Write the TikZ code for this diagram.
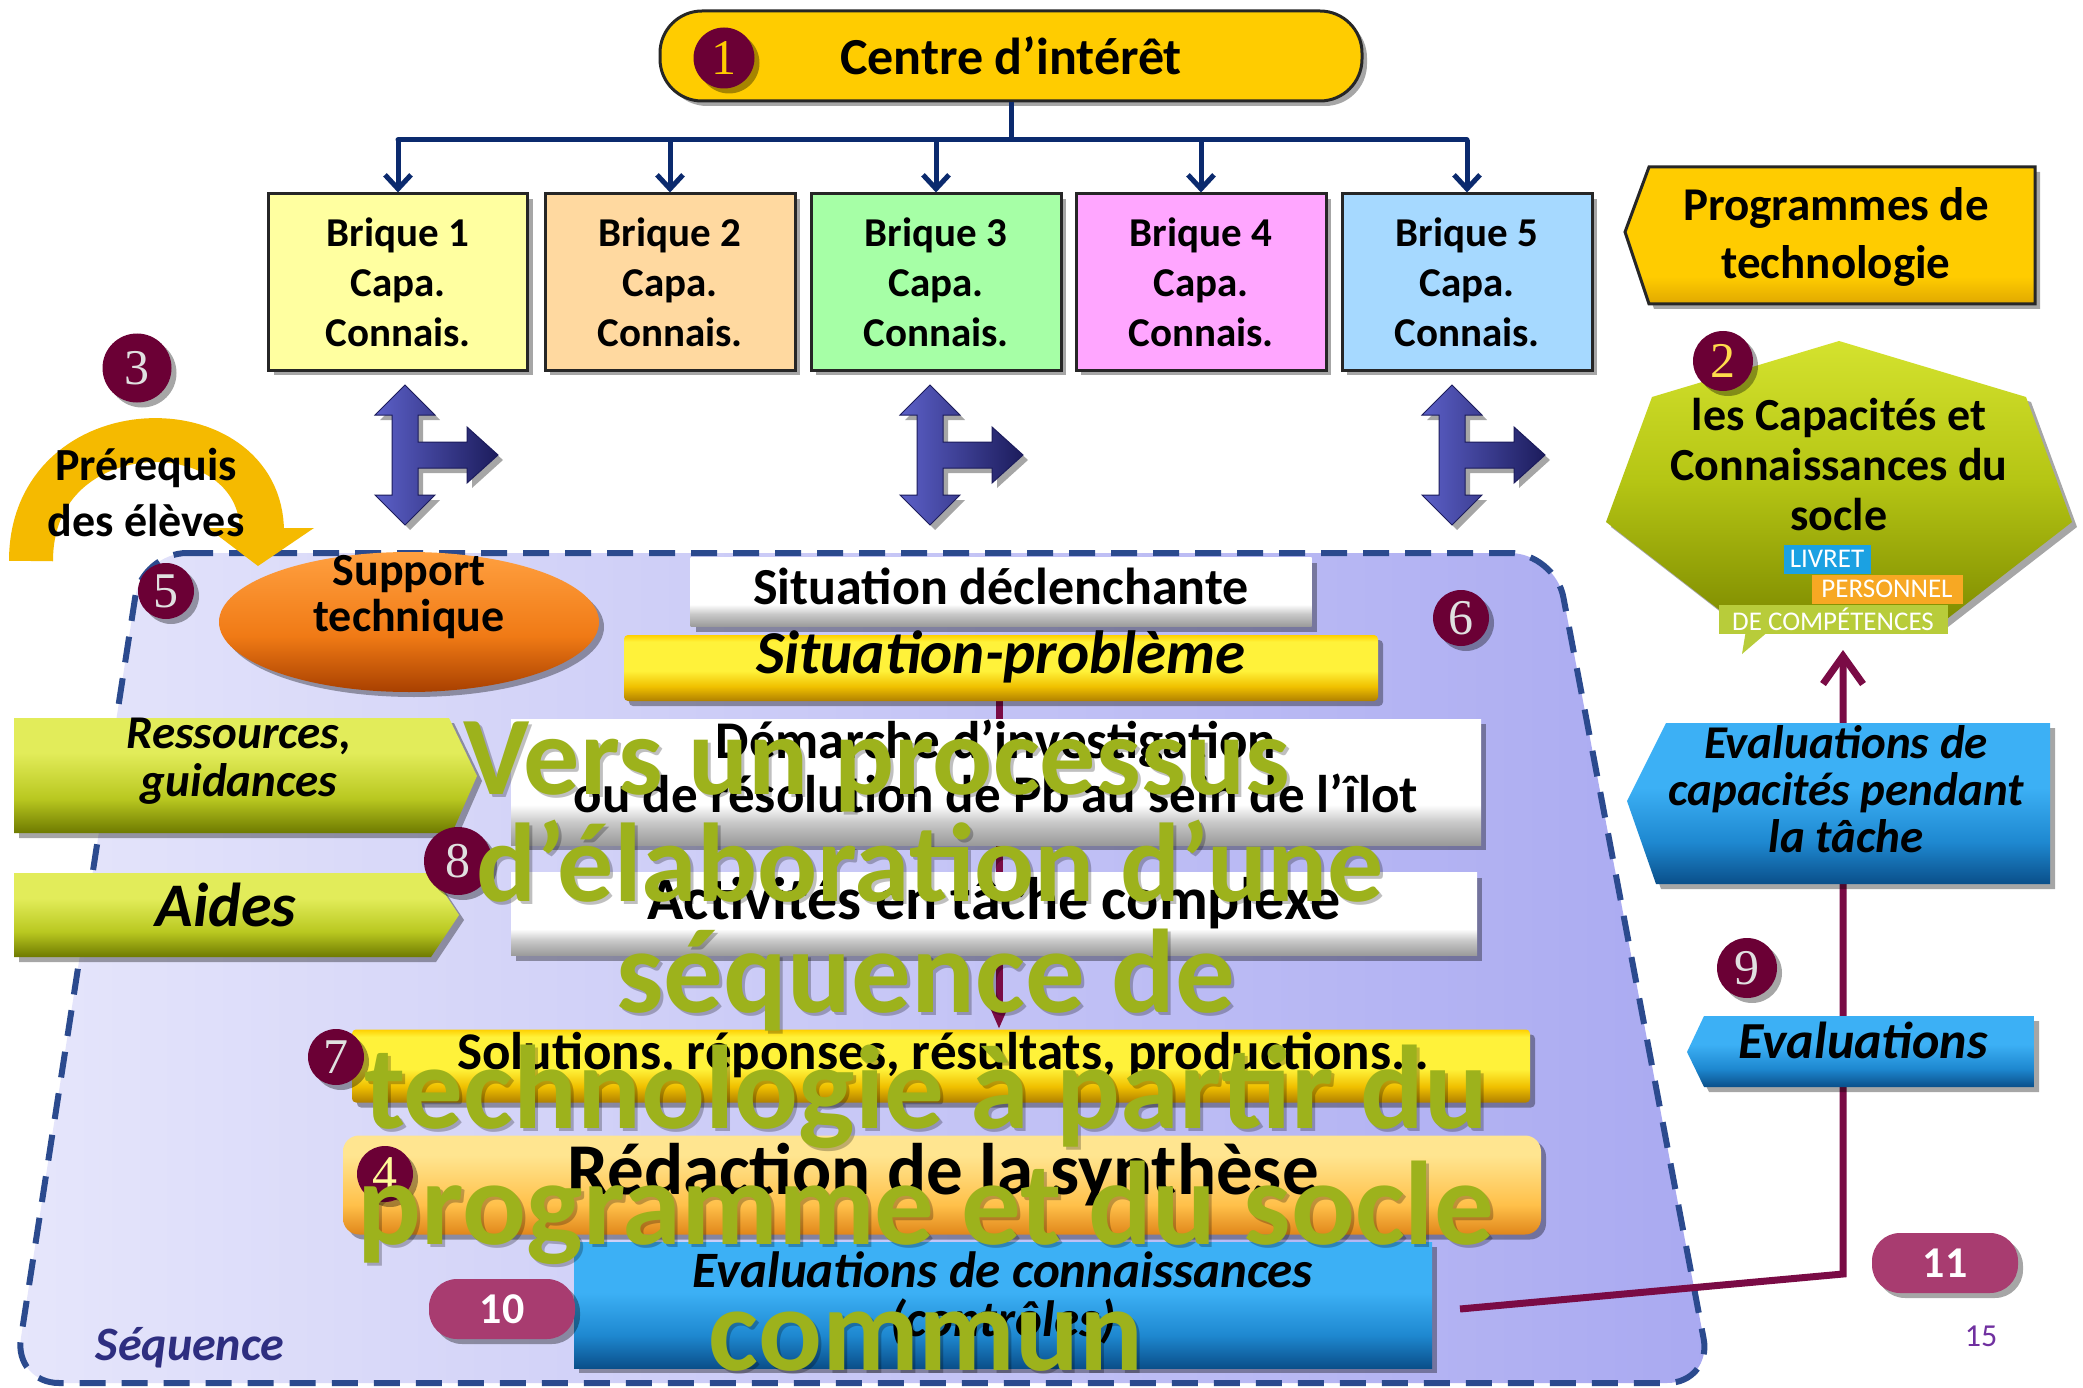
\documentclass[tikz,border=0pt]{standalone}
\usepackage{fontspec}
\setmainfont{Carlito}
\newfontfamily\numfont{Liberation Serif}
\usetikzlibrary{shadows,arrows.meta,shapes.geometric,calc}
\newcommand{\myfs}[2]{\fontsize{#1}{#2}\selectfont}

\definecolor{navy}{HTML}{0B2A6E}
\definecolor{maroon}{HTML}{6B0035}
\definecolor{mline}{HTML}{7A0B45}
\definecolor{pillc}{HTML}{A83C70}
\definecolor{gold}{HTML}{FFCC00}
\definecolor{olivewm}{HTML}{9DB21C}
\definecolor{seqL}{HTML}{E6E6FB}
\definecolor{seqR}{HTML}{A9A9F1}
\definecolor{seqB}{HTML}{2B4A8E}
\definecolor{seqT}{HTML}{2E2E80}
\definecolor{preq}{HTML}{F5BA00}
\definecolor{ta1}{HTML}{5C60C8}
\definecolor{ta2}{HTML}{1C1C5C}
\definecolor{b1c}{HTML}{FFFFA0}
\definecolor{b2c}{HTML}{FFD9A0}
\definecolor{b3c}{HTML}{A6FFA6}
\definecolor{b4c}{HTML}{FFA6FF}
\definecolor{b5c}{HTML}{A6D9FF}
\definecolor{wb1}{HTML}{9A9A9A}
\definecolor{wb2}{HTML}{C8C8C8}
\definecolor{yb1}{HTML}{B08000}
\definecolor{yb2}{HTML}{F0C000}
\definecolor{yb3}{HTML}{FFF23A}
\definecolor{yb4}{HTML}{FFD000}
\definecolor{bb1}{HTML}{0A4F8A}
\definecolor{bb2}{HTML}{1E88D0}
\definecolor{bb3}{HTML}{3CB0F5}
\definecolor{gb1}{HTML}{6E7A00}
\definecolor{gb2}{HTML}{B9C820}
\definecolor{gb3}{HTML}{E2EC5A}
\definecolor{ob1}{HTML}{E0861A}
\definecolor{ob2}{HTML}{FFC04A}
\definecolor{ob3}{HTML}{FFE590}
\definecolor{sp1}{HTML}{A84000}
\definecolor{sp2}{HTML}{F07A15}
\definecolor{sp3}{HTML}{FFA040}
\definecolor{hp1}{HTML}{7F8C00}
\definecolor{hp2}{HTML}{B5C514}
\definecolor{hp3}{HTML}{D4E22E}
\definecolor{gd1}{HTML}{E0A800}
\definecolor{tagb}{HTML}{1BA1E2}
\definecolor{tago}{HTML}{F7A823}
\definecolor{tagg}{HTML}{B8CC3A}
\definecolor{pagec}{HTML}{7030A0}

\pgfdeclareverticalshading{whitebev}{100bp}{color(0bp)=(wb1); color(25bp)=(wb1); color(34bp)=(wb2); color(41bp)=(white); color(100bp)=(white)}
\pgfdeclareverticalshading{yellowbev}{100bp}{color(0bp)=(yb1); color(25bp)=(yb1); color(36bp)=(yb2); color(48bp)=(yb3); color(70bp)=(yb3); color(75bp)=(yb4); color(100bp)=(yb4)}
\pgfdeclareverticalshading{bluebev}{100bp}{color(0bp)=(bb1); color(25bp)=(bb1); color(38bp)=(bb2); color(55bp)=(bb3); color(100bp)=(bb3)}
\pgfdeclareverticalshading{greenbev}{100bp}{color(0bp)=(gb1); color(25bp)=(gb1); color(40bp)=(gb2); color(60bp)=(gb3); color(100bp)=(gb3)}
\pgfdeclareverticalshading{orangebev}{100bp}{color(0bp)=(ob1); color(25bp)=(ob1); color(40bp)=(ob2); color(65bp)=(ob3); color(100bp)=(ob3)}
\pgfdeclareverticalshading{suppshade}{100bp}{color(0bp)=(sp1); color(25bp)=(sp1); color(45bp)=(sp2); color(75bp)=(sp3); color(100bp)=(sp3)}
\pgfdeclareverticalshading{heptshade}{100bp}{color(0bp)=(hp1); color(25bp)=(hp1); color(50bp)=(hp2); color(75bp)=(hp3); color(100bp)=(hp3)}
\pgfdeclareverticalshading{goldbev}{100bp}{color(0bp)=(gd1); color(25bp)=(gd1); color(35bp)=(gold); color(100bp)=(gold)}

\pgfdeclarelayer{back}
\pgfdeclarelayer{mid}
\pgfsetlayers{back,mid,main}

\tikzset{
  shad/.style={drop shadow={shadow xshift=5pt,shadow yshift=-5pt,opacity=0.35,fill=black}},
  brick/.style={draw=black!85,line width=3pt,minimum width=250pt,minimum height=176pt,inner sep=0pt,align=center,font=\myfs{41}{50}\bfseries,shad},
  txt/.style={inner sep=0pt,align=center,text=black},
  badge/.style={circle,fill=maroon,minimum size=#1,inner sep=0pt,font=\numfont\myfs{50}{50},text=white!88!black,shad},
  pillbadge/.style={rounded corners=28pt,fill=pillc,minimum width=146pt,minimum height=60pt,inner sep=0pt,text=white,font=\myfs{44}{44}\bfseries,shad},
  conn/.style={draw=navy,line width=5pt},
  wm/.style={text=olivewm,font=\myfs{119}{119}\bfseries,anchor=base,inner sep=0pt},
  wmshadow/.style={text=black,opacity=0.25,font=\myfs{119}{119}\bfseries,anchor=base,inner sep=0pt},
  tagbox/.style={text=white,inner sep=0pt,minimum height=29pt,font=\myfs{27}{27}},
  tarrow/.pic={
    \path[left color=ta1,right color=ta2,draw=ta2,line width=1pt,shad]
      (0,-70) -- (30,-40) -- (13,-40) -- (13,-13) -- (62,-13) -- (62,-28) -- (93,0)
      -- (62,28) -- (62,13) -- (13,13) -- (13,40) -- (30,40) -- (0,70) -- (-30,40)
      -- (-13,40) -- (-13,-40) -- (-30,-40) -- cycle;
  }
}

\begin{document}
\begin{tikzpicture}[x=1pt,y=-1pt]
\begin{pgfonlayer}{back}
\path[use as bounding box,fill=white] (0,0) rectangle (2083,1388);
\end{pgfonlayer}

% ---------- top: centre d'interet and bricks
\node[draw=black!85,line width=3pt,fill=gold,rounded corners=42pt,minimum width=702pt,minimum height=90pt,inner sep=0pt,font=\myfs{52}{52}\bfseries,shad] (ci) at (1011,56) {Centre d’intérêt};
\node[badge=61pt,text=gold] (n1) at (724,58) {1};

\node[brick,fill=b1c,minimum width=259pt] (b1) at (398,282) {Brique 1\\Capa.\\Connais.};
\node[brick,fill=b2c] (b2) at (670,282) {Brique 2\\Capa.\\Connais.};
\node[brick,fill=b3c] (b3) at (936,282) {Brique 3\\Capa.\\Connais.};
\node[brick,fill=b4c] (b4) at (1201,282) {Brique 4\\Capa.\\Connais.};
\node[brick,fill=b5c] (b5) at (1467,282) {Brique 5\\Capa.\\Connais.};

\coordinate (bus) at (0,140);
\draw[conn] (ci.south) -- (ci.south |- bus);
\draw[conn,line cap=round] (b1.north |- bus) -- (b5.north |- bus);
\foreach \b in {b1,b2,b3,b4,b5}
  \draw[conn,-{Straight Barb[length=14pt,width=26pt]}] (\b.north |- bus) -- (\b.north);

% ---------- programmes de technologie
\path[shade,shading=goldbev,draw=black!85,line width=3pt,shad] (1649,167) -- (2035,167) -- (2035,304) -- (1649,304) -- (1625,232) -- cycle;
\node[txt,font=\myfs{47}{58}\bfseries] (prog) at (1836,237) {Programmes de\\technologie};

% ---------- heptagon socle
\path[shade,shading=heptshade,shad] (1839,341) -- (2026,397) -- (2072,522) -- (1943,622) -- (1735,622) -- (1606,522) -- (1652,397) -- cycle;
\node[txt,font=\myfs{46}{50}\bfseries] (socle) at (1839,465) {les Capacités et\\Connaissances du\\socle};
\node[badge=60pt,text=gold!70!white] (n2) at (1723,361) {2};
\fill[tagg] (1746,630) -- (1742,654) -- (1770,630) -- cycle;
\node[tagbox,fill=tagg,minimum width=229pt] (tdc) at (1833,619) {DE COMPÉTENCES};
\node[tagbox,fill=tago,minimum width=151pt] (tpe) at (1887,589) {PERSONNEL};
\node[tagbox,fill=tagb,minimum width=87pt] (tli) at (1827,559) {LIVRET};

% ---------- T arrows
\pic at (405,455) {tarrow};
\pic at (930,455) {tarrow};
\pic at (1452,455) {tarrow};

% ---------- sequence region content
\node[txt,font=\myfs{48}{48}\bfseries\itshape,text=seqT] (seq) at (190,1348) {Séquence};

\node[ellipse,shade,shading=suppshade,minimum width=380pt,minimum height=140pt,inner sep=0pt,shad] (supp) at (409,622) {};
\node[txt,font=\myfs{46}{46}\bfseries] (suppt) at (409,597) {Support\\technique};
\node[badge=56pt] (n5) at (166,591) {5};

\node[shade,shading=whitebev,minimum width=621pt,minimum height=69pt,inner sep=0pt,shad] (sd) at (1001,592) {};
\node[txt,font=\myfs{52}{52}\bfseries] (sdt) at (1001,586) {Situation déclenchante};

\node[shade,shading=yellowbev,rounded corners=4pt,minimum width=754pt,minimum height=66pt,inner sep=0pt,shad] (sp) at (1001,668) {};
\node[txt,font=\myfs{61}{61}\bfseries\itshape] (spt) at (1001,657) {Situation-problème};

\node[shade,shading=whitebev,minimum width=970pt,minimum height=126pt,inner sep=0pt,shad] (dem) at (996,782) {};
\node[txt,font=\myfs{53}{54}\bfseries] (demt) at (996,766) {Démarche d’investigation\\ou de résolution de Pb au sein de l’îlot};

\node[shade,shading=whitebev,minimum width=966pt,minimum height=83pt,inner sep=0pt,shad] (act) at (994,914) {};
\node[txt,font=\myfs{60}{60}\bfseries] (actt) at (994,903) {Activités en tâche complexe};

\node[shade,shading=yellowbev,rounded corners=4pt,minimum width=1178pt,minimum height=73pt,inner sep=0pt,shad] (sol) at (941,1066) {};
\node[txt,font=\myfs{53}{53}\bfseries] (solt) at (943,1055) {Solutions, réponses, résultats, productions…};
\node[badge=56pt] (n7) at (336,1057) {7};

\node[shade,shading=orangebev,rounded corners=16pt,minimum width=1198pt,minimum height=99pt,inner sep=0pt,shad] (red) at (942,1185) {};
\node[txt,font=\myfs{73}{73}\bfseries] (redt) at (943,1175) {Rédaction de la synthèse};
\node[badge=56pt,text=yellow!40!white] (n4) at (385,1174) {4};

\node[shade,shading=bluebev,minimum width=858pt,minimum height=126pt,inner sep=0pt,shad] (evc) at (1003,1305) {};
\node[txt,font=\myfs{51}{49}\bfseries\itshape] (evct) at (1003,1298) {Evaluations de connaissances\\(contrôles)};
\node[pillbadge] (n10) at (502,1309) {10};

\node[badge=56pt] (n6) at (1461,618) {6};

% ---------- left green boxes
\path[shade,shading=greenbev,shad] (14,718) -- (449,718) -- (477,776) -- (452,833) -- (14,833) -- cycle;
\node[txt,font=\myfs{47}{48}\bfseries\itshape] (ress) at (239,761) {Ressources,\\guidances};
\path[shade,shading=greenbev,shad] (14,873) -- (431,873) -- (459,915) -- (431,957) -- (14,957) -- cycle;
\node[txt,font=\myfs{62}{62}\bfseries\itshape] (aides) at (226,905) {Aides};

% ---------- prerequis
\draw[line width=44pt,preq] (31,561) .. controls (31,405) and (262,405) .. (262,532);
\fill[preq] (208,528) -- (314,528) -- (258,566) -- cycle;
\node[txt,font=\myfs{46}{56}\bfseries] (preqt) at (146,493) {Prérequis\\des élèves};
\node[badge=69pt] (n3) at (137,368) {3};

% ---------- right evaluations
\path[shade,shading=bluebev,shad] (1666,723) -- (2050,723) -- (2050,884) -- (1656,884) -- (1627,801) -- cycle;
\node[txt,font=\myfs{47}{47}\bfseries\itshape] (ecap) at (1846,789) {Evaluations de\\capacités pendant\\la tâche};
\path[shade,shading=bluebev,shad] (1704,1016) -- (2034,1016) -- (2034,1087) -- (1704,1087) -- (1687,1052) -- cycle;
\node[txt,font=\myfs{52}{52}\bfseries\itshape] (ev) at (1863,1040) {Evaluations};
\node[badge=60pt] (n9) at (1747,968) {9};
\node[pillbadge] (n11) at (1945,1263) {11};
\node[txt,font=\myfs{32}{32},text=pagec] (page) at (1981,1336) {15};

\coordinate (mstart) at (1460,1309);
\coordinate (mcorner) at (1843,1274);
\coordinate (mtip) at (1843,650);

% ---------- background layers
\begin{pgfonlayer}{back}
  \path[left color=seqL,right color=seqR,rounded corners=45pt] (142,553) -- (1555,553) -- (1712,1383) -- (14,1383) -- cycle;
  \draw[seqB,line width=6pt,dash pattern=on 26pt off 16pt,rounded corners=45pt] (142,553) -- (1555,553) -- (1712,1383) -- (14,1383) -- cycle;
\end{pgfonlayer}
\begin{pgfonlayer}{mid}
  \draw[mline,line width=7pt,-{Triangle[length=24pt,width=18pt]}] (sp.south -| 999,0) -- (sol.north -| 999,0);
  \draw[mline,line width=7pt,-{Straight Barb[length=28pt,width=40pt]}] (mstart) -- (mcorner) -- (mtip);
\end{pgfonlayer}

% ---------- watermark
\node[wmshadow,font=\myfs{112}{112}\bfseries] (s1) at ([xshift=3pt,yshift=-3pt]877,794) {Vers un processus};
\node[wm,font=\myfs{112}{112}\bfseries] (w1) at (877,794) {Vers un processus};
\node[badge=68pt] (n8) at (458,861) {8};
\node[wmshadow,font=\myfs{112}{112}\bfseries] (s2) at ([xshift=3pt,yshift=-3pt]930,901) {d’élaboration d’une};
\node[wm,font=\myfs{112}{112}\bfseries] (w2) at (930,901) {d’élaboration d’une};
\node[wmshadow] (s3) at ([xshift=3pt,yshift=-3pt]926,1012) {séquence de};
\node[wm] (w3) at (926,1012) {séquence de};
\node[wmshadow] (s4) at ([xshift=3pt,yshift=-3pt]926,1128) {technologie à partir du};
\node[wm] (w4) at (926,1128) {technologie à partir du};
\node[wmshadow] (s5) at ([xshift=3pt,yshift=-3pt]926,1244) {programme et du socle};
\node[wm] (w5) at (926,1244) {programme et du socle};
\node[wmshadow] (s6) at ([xshift=3pt,yshift=-3pt]926,1370) {commun};
\node[wm] (w6) at (926,1370) {commun};
\end{tikzpicture}
\end{document}
